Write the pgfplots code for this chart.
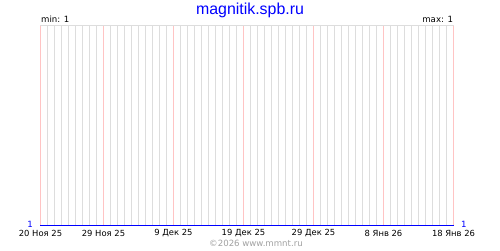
\documentclass[border=0pt]{standalone}
\usepackage{pgfplots}
\pgfplotsset{compat=1.18}
\usepackage{fontspec}
\setmainfont{DejaVu Sans}
\newfontfamily\titlefont{Liberation Sans}
\definecolor{gridgray}{HTML}{DDDDDD}
\definecolor{gridpink}{HTML}{FFC4C4}
\definecolor{footgray}{HTML}{A0A0A0}
\begin{document}
\begin{tikzpicture}
\useasboundingbox (-40pt,-25pt) rectangle (460pt,225pt);
\begin{axis}[
  at={(0.5pt,-0.5pt)}, anchor=origin,
  scale only axis, width=413pt, height=200pt,
  xmin=0, xmax=59, ymin=1, ymax=2,
  axis line style={draw=none},
  ytick=\empty,
  xtick={0,9,19,29,39,49,59},
  xticklabels={20 Ноя 25,29 Ноя 25,9 Дек 25,19 Дек 25,29 Дек 25,8 Янв 26,18 Янв 26},
  minor xtick={1,2,3,4,5,6,7,8,10,11,12,13,14,15,16,17,18,20,21,22,23,24,25,26,27,28,30,31,32,33,34,35,36,37,38,40,41,42,43,44,45,46,47,48,50,51,52,53,54,55,56,57,58},
  major tick length=0pt, minor tick length=0pt,
  xmajorgrids=false, xminorgrids=true,
  minor grid style={draw=gridgray, line width=1pt},
  xticklabel style={font=\fontsize{8.4}{10}\selectfont, anchor=center, yshift=-7.5pt},
  clip=false,
]
\draw[gridgray, line width=1pt] (rel axis cs:0,1) -- (rel axis cs:1,1);
\pgfplotsinvokeforeach{0,9,19,29,39,49,59}{
  \draw[draw=gridpink, line width=1pt] (axis cs:#1,1) -- (axis cs:#1,2);
}
\addplot[blue, line width=1pt, mark=none] coordinates {
(0,1) (1,1) (2,1) (3,1) (4,1) (5,1) (6,1) (7,1) (8,1) (9,1)
(10,1) (11,1) (12,1) (13,1) (14,1) (15,1) (16,1) (17,1) (18,1) (19,1)
(20,1) (21,1) (22,1) (23,1) (24,1) (25,1) (26,1) (27,1) (28,1) (29,1)
(30,1) (31,1) (32,1) (33,1) (34,1) (35,1) (36,1) (37,1) (38,1) (39,1)
(40,1) (41,1) (42,1) (43,1) (44,1) (45,1) (46,1) (47,1) (48,1) (49,1)
(50,1) (51,1) (52,1) (53,1) (54,1) (55,1) (56,1) (57,1) (58,1) (59,1)
};
\end{axis}
\node[blue, font=\titlefont\fontsize{15.9}{18}\selectfont] at (210pt,215pt) {magnitik.spb.ru};
\node[anchor=west, inner sep=0pt, font=\fontsize{8.6}{10}\selectfont] at (1pt,206pt) {min: 1};
\node[anchor=east, inner sep=0pt, font=\fontsize{8.6}{10}\selectfont] at (413.3pt,206pt) {max: 1};
\node[anchor=east, inner sep=0pt, blue, font=\fontsize{8.6}{10}\selectfont] at (-7pt,1pt) {1};
\node[anchor=west, inner sep=0pt, blue, font=\fontsize{8.6}{10}\selectfont] at (421pt,1pt) {1};
\node[footgray, font=\fontsize{8.6}{10}\selectfont] at (216pt,-18pt) {©2026 www.mmnt.ru};
\end{tikzpicture}
\end{document}
